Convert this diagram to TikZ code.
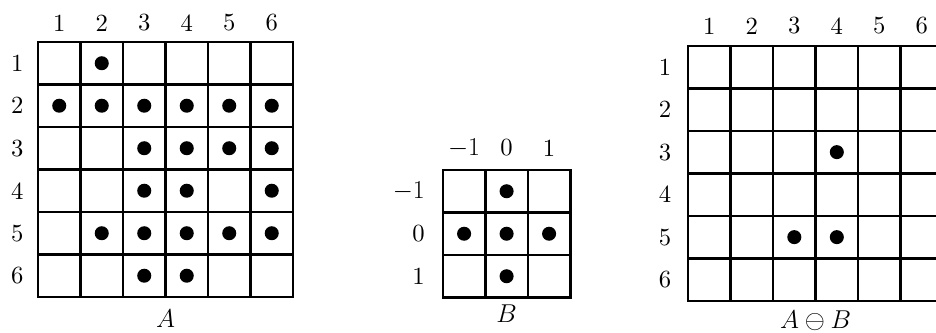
\documentclass[tikz,border=0pt]{standalone}
\usepackage{amsmath}
\usepackage{amssymb}
\usepackage{fontspec}
\setmainfont{lmroman10-regular.otf}
\usepackage{tikz}

\begin{document}
\begin{tikzpicture}[x=1cm, y=-1cm, font=\fontsize{16.5}{20}\selectfont,
    gridline/.style={line width=1.6pt, line cap=rect},
    dot/.style={fill=black, draw=none}]
    \clip (0,0) rectangle (22.024,7.835);

    % grid A
    \begin{scope}[shift={(0.894,0.988)}]
        \draw[gridline] (0,0) grid (6,6);
        \foreach \i in {1,...,6} {
            \node (acol\i) at (\i-0.5,-0.45) {\i};
            \node (arow\i) at (-0.49,\i-0.5) {\i};
        }
        \foreach \r/\c in {1/2, 2/1, 2/2, 2/3, 2/4, 2/5, 2/6, 3/3, 3/4, 3/5, 3/6,
                           4/3, 4/4, 4/6, 5/2, 5/3, 5/4, 5/5, 5/6, 6/3, 6/4}
            \fill[dot] (\c-0.5,\r-0.5) circle (0.165);
        \node (la) at (3,6.5) {$A$};
    \end{scope}

    % structuring element B
    \begin{scope}[shift={(10.42,4.0)}]
        \draw[gridline] (0,0) grid (3,3);
        \foreach \k/\t in {1/$-1$, 2/0, 3/1} {
            \node (bcol\k) at (\k-0.5,-0.52) {\t};
            \node[anchor=east] (brow\k) at (-0.3,\k-0.5) {\t};
        }
        \foreach \r/\c in {1/2, 2/1, 2/2, 2/3, 3/2}
            \fill[dot] (\c-0.5,\r-0.5) circle (0.165);
        \node (lb) at (1.5,3.39) {$B$};
    \end{scope}

    % result
    \begin{scope}[shift={(16.19,1.08)}]
        \draw[gridline] (0,0) grid (6,6);
        \foreach \i in {1,...,6} {
            \node (ccol\i) at (\i-0.5,-0.47) {\i};
            \node (crow\i) at (-0.54,\i-0.5) {\i};
        }
        \foreach \r/\c in {3/4, 5/3, 5/4}
            \fill[dot] (\c-0.5,\r-0.5) circle (0.165);
        \node (lc) at (3,6.47) {$A \ominus B$};
    \end{scope}
\end{tikzpicture}
\end{document}
